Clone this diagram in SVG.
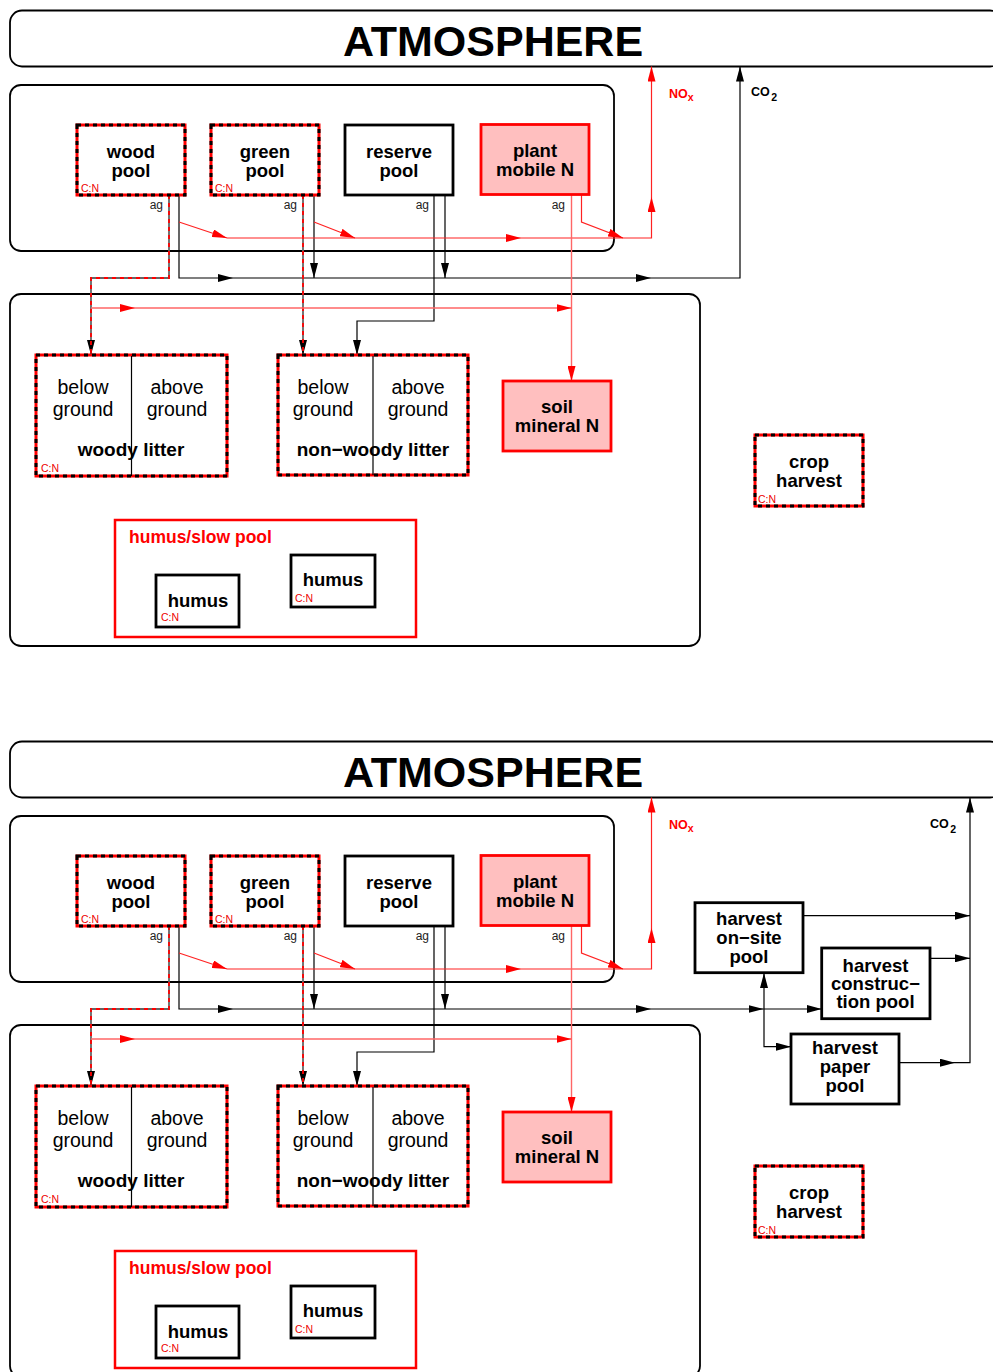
<svg xmlns="http://www.w3.org/2000/svg" width="993" height="1372" viewBox="0 0 993 1372">
<style>
text{font-family:"Liberation Sans",Arial,Helvetica,sans-serif}
.bg{fill:#fff}
.cont{fill:none;stroke:#000;stroke-width:1.8}
.box{fill:#fff;stroke:#000;stroke-width:2.8}
.dbr{fill:#fff;stroke:#f00;stroke-width:3}
.dbk{fill:none;stroke:#000;stroke-width:3;stroke-dasharray:4 4}
.pink{fill:#ffbfbf;stroke:#f00;stroke-width:2.8}
.slow{fill:none;stroke:#f00;stroke-width:2.5}
.atm{font-size:43px;font-weight:bold;text-anchor:middle}
.lbl{font-size:18.5px;font-weight:bold;text-anchor:middle}
.lit{font-size:19px;font-weight:bold;text-anchor:middle}
.reg{font-size:19.5px;text-anchor:middle}
.cn{font-size:10.5px;fill:#e00}
.ag{font-size:12px;text-anchor:end;fill:#222}
.slowt{font-size:17.5px;font-weight:bold;fill:#f00}
.gas{font-size:12.5px;font-weight:bold}
.sub{font-size:10.5px}
.div{stroke:#000;stroke-width:1.2}
.k{stroke:#000;stroke-width:1.2;fill:none}
.r{stroke:#f22;stroke-width:1.2;fill:none}
.rl{stroke:#f66;stroke-width:1.4;fill:none}
.dg{stroke:#666;stroke-width:1.8;fill:none}
.dr{stroke:#f00;stroke-width:1.8;fill:none;stroke-dasharray:4 4}
</style>
<defs>
<marker id="ak" viewBox="0 0 15 8" refX="15" refY="4" markerWidth="15" markerHeight="8" markerUnits="userSpaceOnUse" orient="auto"><path d="M0,0 L15,4 L0,8 Z" fill="#000"/></marker>
<marker id="ar" viewBox="0 0 15 8" refX="15" refY="4" markerWidth="15" markerHeight="8" markerUnits="userSpaceOnUse" orient="auto"><path d="M0,0 L15,4 L0,8 Z" fill="#f00"/></marker>
</defs>
<rect class="bg" x="0" y="0" width="993" height="1372"/>

<!-- ===== UPPER DIAGRAM ===== -->
<g id="upper">
<g id="atmosphere-1"><rect class="cont" x="10" y="10.5" width="992" height="56" rx="12"/><text class="atm" x="493" y="56">ATMOSPHERE</text></g>
<g id="plant-compartment-1"><rect class="cont" x="10" y="85" width="604" height="166" rx="11"/></g>
<g id="soil-compartment-1"><rect class="cont" x="10" y="294" width="690" height="352" rx="11"/></g>

<g id="connectors-1">
<path class="k" d="M179,195 V278 H233" marker-end="url(#ak)"/>
<path class="k" d="M233,278 H651" marker-end="url(#ak)"/>
<path class="k" d="M651,278 H740 V66.5" marker-end="url(#ak)"/>
<path class="k" d="M314,195 V278" marker-end="url(#ak)"/>
<path class="k" d="M445,195 V278" marker-end="url(#ak)"/>
<path class="k" d="M434,195 V321 H357 V355" marker-end="url(#ak)"/>
<path class="dg" d="M169,195 V278 H91 V355" marker-end="url(#ak)"/>
<path class="dr" d="M169,195 V278 H91 V355"/>
<path class="dg" d="M303,195 V355" marker-end="url(#ak)"/>
<path class="dr" d="M303,195 V355"/>
<path class="r" d="M179,222 L227,238" marker-end="url(#ar)"/>
<path class="r" d="M314,222 L355,238" marker-end="url(#ar)"/>
<path class="r" d="M227,238 H521" marker-end="url(#ar)"/>
<path class="r" d="M521,238 H651.5 V197" marker-end="url(#ar)"/>
<path class="r" d="M651.5,197 V66.5" marker-end="url(#ar)"/>
<path class="r" d="M581.5,195 V222 L623,238" marker-end="url(#ar)"/>
<path class="rl" d="M571.5,195 V381" marker-end="url(#ar)"/>
<path class="rl" d="M91,308 H135" marker-end="url(#ar)"/>
<path class="rl" d="M135,308 H571.5" marker-end="url(#ar)"/>
<text class="gas" x="669" y="98" fill="#f00">NO<tspan class="sub" dy="3">x</tspan></text>
<text class="gas" x="751" y="96">CO<tspan class="sub" dx="1.5" dy="5">2</tspan></text>
<text class="ag" x="163" y="209">ag</text>
<text class="ag" x="297" y="209">ag</text>
<text class="ag" x="429" y="209">ag</text>
<text class="ag" x="565" y="209">ag</text>
</g>

<g id="wood-pool-1"><rect class="dbr" x="77" y="125" width="108" height="70"/><rect class="dbk" x="77" y="125" width="108" height="70"/><text class="lbl" x="131" y="158">wood</text><text class="lbl" x="131" y="177">pool</text><text class="cn" x="81" y="192">C:N</text></g>
<g id="green-pool-1"><rect class="dbr" x="211" y="125" width="108" height="70"/><rect class="dbk" x="211" y="125" width="108" height="70"/><text class="lbl" x="265" y="158">green</text><text class="lbl" x="265" y="177">pool</text><text class="cn" x="215" y="192">C:N</text></g>
<g id="reserve-pool-1"><rect class="box" x="345" y="125" width="108" height="70"/><text class="lbl" x="399" y="158">reserve</text><text class="lbl" x="399" y="177">pool</text></g>
<g id="plant-mobile-n-1"><rect class="pink" x="481" y="124.5" width="108" height="70"/><text class="lbl" x="535" y="157">plant</text><text class="lbl" x="535" y="176">mobile N</text></g>

<g id="woody-litter-1"><rect class="dbr" x="36" y="355" width="191" height="121"/><rect class="dbk" x="36" y="355" width="191" height="121"/><line class="div" x1="131.5" y1="356" x2="131.5" y2="476"/><text class="reg" x="83" y="394">below</text><text class="reg" x="83" y="415.5">ground</text><text class="reg" x="177" y="394">above</text><text class="reg" x="177" y="415.5">ground</text><text class="lit" x="131" y="456">woody litter</text><text class="cn" x="41" y="472">C:N</text></g>
<g id="nonwoody-litter-1"><rect class="dbr" x="278" y="355" width="190" height="120"/><rect class="dbk" x="278" y="355" width="190" height="120"/><line class="div" x1="373" y1="356" x2="373" y2="475"/><text class="reg" x="323" y="394">below</text><text class="reg" x="323" y="415.5">ground</text><text class="reg" x="418" y="394">above</text><text class="reg" x="418" y="415.5">ground</text><text class="lit" x="373" y="456">non−woody litter</text></g>
<g id="soil-mineral-n-1"><rect class="pink" x="503" y="381" width="108" height="70"/><text class="lbl" x="557" y="413">soil</text><text class="lbl" x="557" y="432">mineral N</text></g>
<g id="crop-harvest-1"><rect class="dbr" x="755" y="435" width="108" height="71"/><rect class="dbk" x="755" y="435" width="108" height="71"/><text class="lbl" x="809" y="468">crop</text><text class="lbl" x="809" y="487">harvest</text><text class="cn" x="758" y="503">C:N</text></g>
<g id="humus-slow-pool-1"><rect class="slow" x="115" y="520" width="301" height="117"/><text class="slowt" x="129" y="543">humus/slow pool</text></g>
<g id="humus-a-1"><rect class="box" x="156" y="575" width="83" height="52"/><text class="lbl" x="198" y="607">humus</text><text class="cn" x="161" y="621">C:N</text></g>
<g id="humus-b-1"><rect class="box" x="291" y="555" width="84" height="52"/><text class="lbl" x="333" y="586">humus</text><text class="cn" x="295" y="602">C:N</text></g>
</g>

<!-- ===== LOWER DIAGRAM ===== -->
<g id="lower" transform="translate(0,731)">
<g id="atmosphere-2"><rect class="cont" x="10" y="10.5" width="992" height="56" rx="12"/><text class="atm" x="493" y="56">ATMOSPHERE</text></g>
<g id="plant-compartment-2"><rect class="cont" x="10" y="85" width="604" height="166" rx="11"/></g>
<g id="soil-compartment-2"><rect class="cont" x="10" y="294" width="690" height="352" rx="11"/></g>

<g id="connectors-2">
<path class="k" d="M179,195 V278 H233" marker-end="url(#ak)"/>
<path class="k" d="M233,278 H651" marker-end="url(#ak)"/>
<path class="k" d="M651,278 H763.5" marker-end="url(#ak)"/>
<path class="k" d="M763.5,278 H821.7" marker-end="url(#ak)"/>
<path class="k" d="M764,278 V242" marker-end="url(#ak)"/>
<path class="k" d="M764,278 V315.7 H791" marker-end="url(#ak)"/>
<path class="k" d="M803,184.7 H970" marker-end="url(#ak)"/>
<path class="k" d="M930,227.3 H970" marker-end="url(#ak)"/>
<path class="k" d="M899,331.7 H955" marker-end="url(#ak)"/>
<path class="k" d="M955,331.7 H970 V66.5" marker-end="url(#ak)"/>
<path class="k" d="M314,195 V278" marker-end="url(#ak)"/>
<path class="k" d="M445,195 V278" marker-end="url(#ak)"/>
<path class="k" d="M434,195 V321 H357 V355" marker-end="url(#ak)"/>
<path class="dg" d="M169,195 V278 H91 V355" marker-end="url(#ak)"/>
<path class="dr" d="M169,195 V278 H91 V355"/>
<path class="dg" d="M303,195 V355" marker-end="url(#ak)"/>
<path class="dr" d="M303,195 V355"/>
<path class="r" d="M179,222 L227,238" marker-end="url(#ar)"/>
<path class="r" d="M314,222 L355,238" marker-end="url(#ar)"/>
<path class="r" d="M227,238 H521" marker-end="url(#ar)"/>
<path class="r" d="M521,238 H651.5 V197" marker-end="url(#ar)"/>
<path class="r" d="M651.5,197 V66.5" marker-end="url(#ar)"/>
<path class="r" d="M581.5,195 V222 L623,238" marker-end="url(#ar)"/>
<path class="rl" d="M571.5,195 V381" marker-end="url(#ar)"/>
<path class="rl" d="M91,308 H135" marker-end="url(#ar)"/>
<path class="rl" d="M135,308 H571.5" marker-end="url(#ar)"/>
<text class="gas" x="669" y="98" fill="#f00">NO<tspan class="sub" dy="3">x</tspan></text>
<text class="gas" x="930" y="97">CO<tspan class="sub" dx="1.5" dy="5">2</tspan></text>
<text class="ag" x="163" y="209">ag</text>
<text class="ag" x="297" y="209">ag</text>
<text class="ag" x="429" y="209">ag</text>
<text class="ag" x="565" y="209">ag</text>
</g>

<g id="wood-pool-2"><rect class="dbr" x="77" y="125" width="108" height="70"/><rect class="dbk" x="77" y="125" width="108" height="70"/><text class="lbl" x="131" y="158">wood</text><text class="lbl" x="131" y="177">pool</text><text class="cn" x="81" y="192">C:N</text></g>
<g id="green-pool-2"><rect class="dbr" x="211" y="125" width="108" height="70"/><rect class="dbk" x="211" y="125" width="108" height="70"/><text class="lbl" x="265" y="158">green</text><text class="lbl" x="265" y="177">pool</text><text class="cn" x="215" y="192">C:N</text></g>
<g id="reserve-pool-2"><rect class="box" x="345" y="125" width="108" height="70"/><text class="lbl" x="399" y="158">reserve</text><text class="lbl" x="399" y="177">pool</text></g>
<g id="plant-mobile-n-2"><rect class="pink" x="481" y="124.5" width="108" height="70"/><text class="lbl" x="535" y="157">plant</text><text class="lbl" x="535" y="176">mobile N</text></g>

<g id="harvest-onsite-2"><rect class="box" x="695" y="171.7" width="108" height="70"/><text class="lbl" x="749" y="194">harvest</text><text class="lbl" x="749" y="213">on−site</text><text class="lbl" x="749" y="231.7">pool</text></g>
<g id="harvest-construction-2"><rect class="box" x="821.7" y="217" width="108.3" height="70.7"/><text class="lbl" x="875.5" y="240.7">harvest</text><text class="lbl" x="875.5" y="259">construc−</text><text class="lbl" x="875.5" y="277.3">tion pool</text></g>
<g id="harvest-paper-2"><rect class="box" x="791" y="303" width="108" height="70"/><text class="lbl" x="845" y="323">harvest</text><text class="lbl" x="845" y="342">paper</text><text class="lbl" x="845" y="361">pool</text></g>

<g id="woody-litter-2"><rect class="dbr" x="36" y="355" width="191" height="121"/><rect class="dbk" x="36" y="355" width="191" height="121"/><line class="div" x1="131.5" y1="356" x2="131.5" y2="476"/><text class="reg" x="83" y="394">below</text><text class="reg" x="83" y="415.5">ground</text><text class="reg" x="177" y="394">above</text><text class="reg" x="177" y="415.5">ground</text><text class="lit" x="131" y="456">woody litter</text><text class="cn" x="41" y="472">C:N</text></g>
<g id="nonwoody-litter-2"><rect class="dbr" x="278" y="355" width="190" height="120"/><rect class="dbk" x="278" y="355" width="190" height="120"/><line class="div" x1="373" y1="356" x2="373" y2="475"/><text class="reg" x="323" y="394">below</text><text class="reg" x="323" y="415.5">ground</text><text class="reg" x="418" y="394">above</text><text class="reg" x="418" y="415.5">ground</text><text class="lit" x="373" y="456">non−woody litter</text></g>
<g id="soil-mineral-n-2"><rect class="pink" x="503" y="381" width="108" height="70"/><text class="lbl" x="557" y="413">soil</text><text class="lbl" x="557" y="432">mineral N</text></g>
<g id="crop-harvest-2"><rect class="dbr" x="755" y="435" width="108" height="71"/><rect class="dbk" x="755" y="435" width="108" height="71"/><text class="lbl" x="809" y="468">crop</text><text class="lbl" x="809" y="487">harvest</text><text class="cn" x="758" y="503">C:N</text></g>
<g id="humus-slow-pool-2"><rect class="slow" x="115" y="520" width="301" height="117"/><text class="slowt" x="129" y="543">humus/slow pool</text></g>
<g id="humus-a-2"><rect class="box" x="156" y="575" width="83" height="52"/><text class="lbl" x="198" y="607">humus</text><text class="cn" x="161" y="621">C:N</text></g>
<g id="humus-b-2"><rect class="box" x="291" y="555" width="84" height="52"/><text class="lbl" x="333" y="586">humus</text><text class="cn" x="295" y="602">C:N</text></g>
</g>
</svg>
